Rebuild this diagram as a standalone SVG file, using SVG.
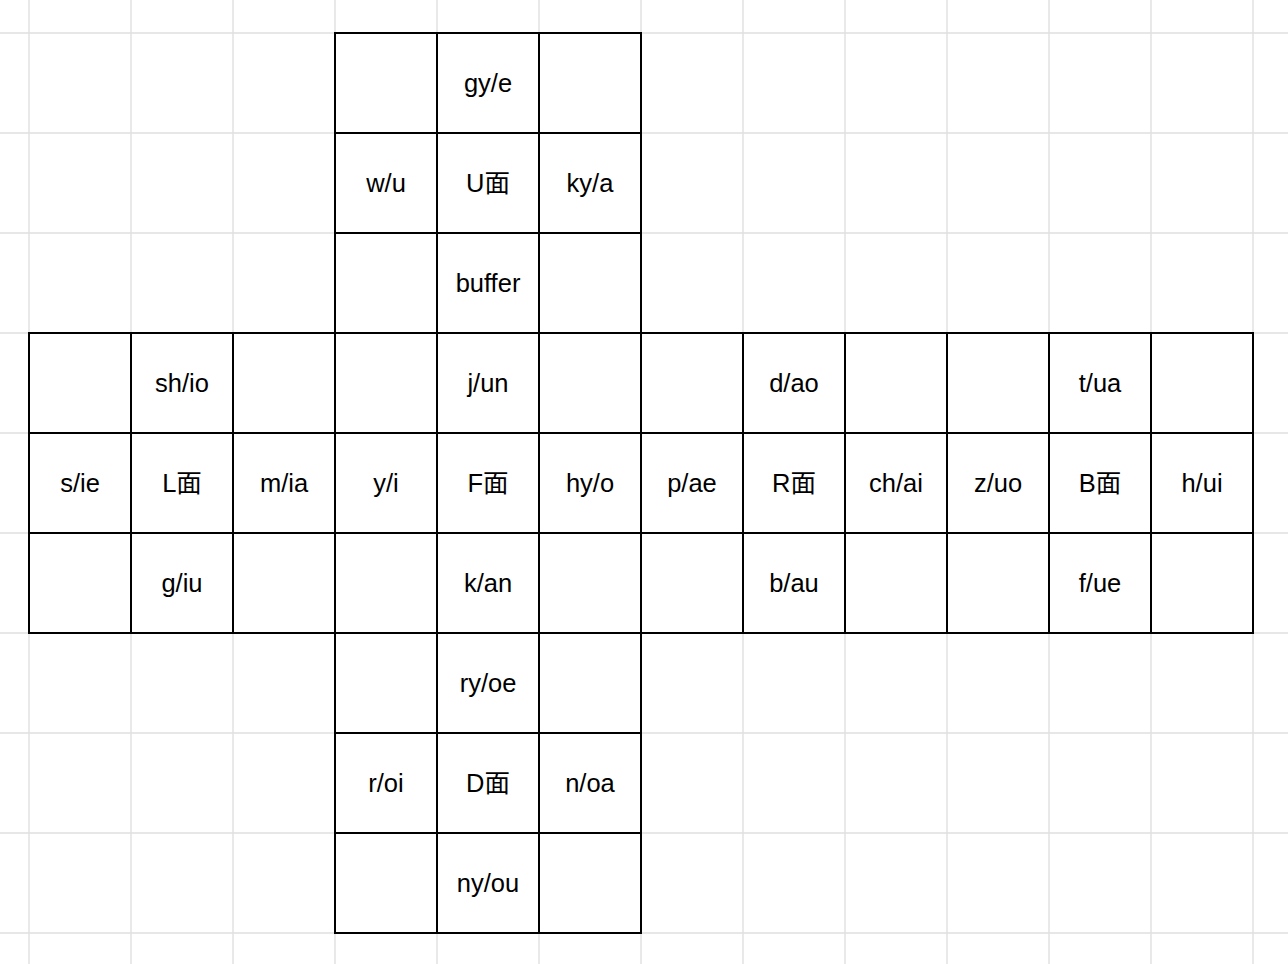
<svg xmlns="http://www.w3.org/2000/svg" width="1288" height="964" viewBox="0 0 1288 964">
<style>
.g{stroke:#e0e0e0;stroke-width:1.4;fill:none}
.c rect{fill:#fff;stroke:#000;stroke-width:2}
.c text{font-family:"Liberation Sans",Arial,"Noto Sans CJK SC",sans-serif;font-size:25.5px;fill:#000;text-anchor:middle}
</style>
<rect width="1288" height="964" fill="#fff"/>
<g id="grid" class="g">
<path d="M29 0V964M131 0V964M233 0V964M335 0V964M437 0V964M539 0V964M641 0V964M743 0V964M845 0V964M947 0V964M1049 0V964M1151 0V964M1253 0V964"/>
<path d="M0 33H1288M0 133H1288M0 233H1288M0 333H1288M0 433H1288M0 533H1288M0 633H1288M0 733H1288M0 833H1288M0 933H1288"/>
</g>
<g id="cells">
<g id="u00" class="c"><rect x="335" y="33" width="102" height="100"/></g>
<g id="u01" class="c"><rect x="437" y="33" width="102" height="100"/><text x="488" y="92">gy/e</text></g>
<g id="u02" class="c"><rect x="539" y="33" width="102" height="100"/></g>
<g id="u10" class="c"><rect x="335" y="133" width="102" height="100"/><text x="386" y="192">w/u</text></g>
<g id="u11" class="c"><rect x="437" y="133" width="102" height="100"/><text x="488" y="192">U面</text></g>
<g id="u12" class="c"><rect x="539" y="133" width="102" height="100"/><text x="590" y="192">ky/a</text></g>
<g id="u20" class="c"><rect x="335" y="233" width="102" height="100"/></g>
<g id="u21" class="c"><rect x="437" y="233" width="102" height="100"/><text x="488" y="292">buffer</text></g>
<g id="u22" class="c"><rect x="539" y="233" width="102" height="100"/></g>

<g id="m0-0" class="c"><rect x="29" y="333" width="102" height="100"/></g>
<g id="m0-1" class="c"><rect x="131" y="333" width="102" height="100"/><text x="182" y="392">sh/io</text></g>
<g id="m0-2" class="c"><rect x="233" y="333" width="102" height="100"/></g>
<g id="m0-3" class="c"><rect x="335" y="333" width="102" height="100"/></g>
<g id="m0-4" class="c"><rect x="437" y="333" width="102" height="100"/><text x="488" y="392">j/un</text></g>
<g id="m0-5" class="c"><rect x="539" y="333" width="102" height="100"/></g>
<g id="m0-6" class="c"><rect x="641" y="333" width="102" height="100"/></g>
<g id="m0-7" class="c"><rect x="743" y="333" width="102" height="100"/><text x="794" y="392">d/ao</text></g>
<g id="m0-8" class="c"><rect x="845" y="333" width="102" height="100"/></g>
<g id="m0-9" class="c"><rect x="947" y="333" width="102" height="100"/></g>
<g id="m0-10" class="c"><rect x="1049" y="333" width="102" height="100"/><text x="1100" y="392">t/ua</text></g>
<g id="m0-11" class="c"><rect x="1151" y="333" width="102" height="100"/></g>

<g id="m1-0" class="c"><rect x="29" y="433" width="102" height="100"/><text x="80" y="492">s/ie</text></g>
<g id="m1-1" class="c"><rect x="131" y="433" width="102" height="100"/><text x="182" y="492">L面</text></g>
<g id="m1-2" class="c"><rect x="233" y="433" width="102" height="100"/><text x="284" y="492">m/ia</text></g>
<g id="m1-3" class="c"><rect x="335" y="433" width="102" height="100"/><text x="386" y="492">y/i</text></g>
<g id="m1-4" class="c"><rect x="437" y="433" width="102" height="100"/><text x="488" y="492">F面</text></g>
<g id="m1-5" class="c"><rect x="539" y="433" width="102" height="100"/><text x="590" y="492">hy/o</text></g>
<g id="m1-6" class="c"><rect x="641" y="433" width="102" height="100"/><text x="692" y="492">p/ae</text></g>
<g id="m1-7" class="c"><rect x="743" y="433" width="102" height="100"/><text x="794" y="492">R面</text></g>
<g id="m1-8" class="c"><rect x="845" y="433" width="102" height="100"/><text x="896" y="492">ch/ai</text></g>
<g id="m1-9" class="c"><rect x="947" y="433" width="102" height="100"/><text x="998" y="492">z/uo</text></g>
<g id="m1-10" class="c"><rect x="1049" y="433" width="102" height="100"/><text x="1100" y="492">B面</text></g>
<g id="m1-11" class="c"><rect x="1151" y="433" width="102" height="100"/><text x="1202" y="492">h/ui</text></g>

<g id="m2-0" class="c"><rect x="29" y="533" width="102" height="100"/></g>
<g id="m2-1" class="c"><rect x="131" y="533" width="102" height="100"/><text x="182" y="592">g/iu</text></g>
<g id="m2-2" class="c"><rect x="233" y="533" width="102" height="100"/></g>
<g id="m2-3" class="c"><rect x="335" y="533" width="102" height="100"/></g>
<g id="m2-4" class="c"><rect x="437" y="533" width="102" height="100"/><text x="488" y="592">k/an</text></g>
<g id="m2-5" class="c"><rect x="539" y="533" width="102" height="100"/></g>
<g id="m2-6" class="c"><rect x="641" y="533" width="102" height="100"/></g>
<g id="m2-7" class="c"><rect x="743" y="533" width="102" height="100"/><text x="794" y="592">b/au</text></g>
<g id="m2-8" class="c"><rect x="845" y="533" width="102" height="100"/></g>
<g id="m2-9" class="c"><rect x="947" y="533" width="102" height="100"/></g>
<g id="m2-10" class="c"><rect x="1049" y="533" width="102" height="100"/><text x="1100" y="592">f/ue</text></g>
<g id="m2-11" class="c"><rect x="1151" y="533" width="102" height="100"/></g>

<g id="d00" class="c"><rect x="335" y="633" width="102" height="100"/></g>
<g id="d01" class="c"><rect x="437" y="633" width="102" height="100"/><text x="488" y="692">ry/oe</text></g>
<g id="d02" class="c"><rect x="539" y="633" width="102" height="100"/></g>
<g id="d10" class="c"><rect x="335" y="733" width="102" height="100"/><text x="386" y="792">r/oi</text></g>
<g id="d11" class="c"><rect x="437" y="733" width="102" height="100"/><text x="488" y="792">D面</text></g>
<g id="d12" class="c"><rect x="539" y="733" width="102" height="100"/><text x="590" y="792">n/oa</text></g>
<g id="d20" class="c"><rect x="335" y="833" width="102" height="100"/></g>
<g id="d21" class="c"><rect x="437" y="833" width="102" height="100"/><text x="488" y="892">ny/ou</text></g>
<g id="d22" class="c"><rect x="539" y="833" width="102" height="100"/></g>
</g>
</svg>
